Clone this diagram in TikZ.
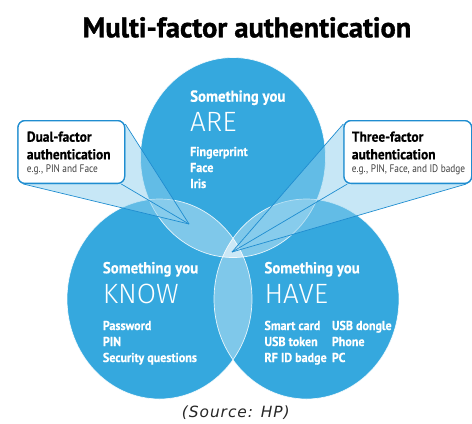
\documentclass[tikz,border=0pt]{standalone}
\usepackage{fontspec}
\usepackage{tikz}
\usetikzlibrary{positioning,calc}
\setmainfont{PT Sans}
\newfontfamily\hpsans[FakeStretch=0.93, BoldFeatures={FakeBold=0.5}]{PT Sans}
\newfontfamily\hpnote[FakeStretch=0.85]{PT Sans}
\newfontfamily\hptitle[FakeBold=1.2]{PT Sans Bold}
\newfontfamily\hplight{Fira Sans Light}
\newfontfamily\srcfont[LetterSpace=6]{DejaVu Sans}

\definecolor{hpblue}{HTML}{35A8DE}
\definecolor{hpline}{HTML}{1F8DD0}
\definecolor{hplight}{HTML}{8FD0EE}

\tikzset{
  venn/.style={fill=hpblue},
  lens/.style={fill=white, fill opacity=0.37},
  rim/.style={draw=white, line width=0.7bp, draw opacity=0.85},
  callout/.style={draw=hpline, line width=1.3bp, fill=white, rounded corners=7bp,
    inner sep=0pt, anchor=north west},
  wedge/.style={fill=hplight, fill opacity=0.5},
  ray/.style={draw=hpline, line width=0.7bp},
  head/.style={anchor=base west, inner sep=0pt, text=white,
    font=\hpsans\bfseries\fontsize{16}{18}\selectfont},
  big/.style={anchor=base west, inner sep=0pt, text=white,
    font=\hplight\fontsize{28}{30}\selectfont},
  item/.style={anchor=base west, inner sep=0pt, text=white,
    font=\hpsans\bfseries\fontsize{13}{15}\selectfont},
  boxhead/.style={anchor=base west, inner sep=0pt,
    font=\hpsans\bfseries\fontsize{14.5}{16}\selectfont},
  boxnote/.style={anchor=base west, inner sep=0pt, text=black!75,
    font=\hpnote\fontsize{11}{13}\selectfont},
}

\begin{document}
\begin{tikzpicture}[x=1bp,y=-1bp]
\useasboundingbox (0,0) rectangle (472,423);

% the three sets
\coordinate (are) at (233,157.5);
\coordinate (know) at (159.5,299);
\coordinate (have) at (306.5,299);
\fill[venn] (are) ellipse [x radius=92.5bp, y radius=100bp];
\fill[venn] (know) ellipse [x radius=92.5bp, y radius=100bp];
\fill[venn] (have) ellipse [x radius=92.5bp, y radius=100bp];

% overlaps
\begin{scope}
  \clip (are) ellipse [x radius=92.5bp, y radius=100bp];
  \fill[lens] (know) ellipse [x radius=92.5bp, y radius=100bp];
  \fill[lens] (have) ellipse [x radius=92.5bp, y radius=100bp];
\end{scope}
\begin{scope}
  \clip (know) ellipse [x radius=92.5bp, y radius=100bp];
  \fill[lens] (have) ellipse [x radius=92.5bp, y radius=100bp];
\end{scope}
\draw[rim] (are) ellipse [x radius=92.5bp, y radius=100bp];
\draw[rim] (know) ellipse [x radius=92.5bp, y radius=100bp];
\draw[rim] (have) ellipse [x radius=92.5bp, y radius=100bp];

% callouts
\node[callout, minimum width=106.7bp, minimum height=62.7bp] (dual) at (17.3,120) {};
\node[callout, minimum width=127.7bp, minimum height=62.7bp] (three) at (343.3,120) {};
\coordinate (dualtip) at (189,224);
\coordinate (threetip) at (232,252);

\fill[wedge] ([yshift=-4bp]dual.north east) -- (dualtip) -- ([xshift=6bp]dual.south west) -- cycle;
\fill[wedge] ([yshift=-4bp]three.north west) -- (threetip) -- ([xshift=-6bp]three.south east) -- cycle;
\draw[ray] ([yshift=-4bp]dual.north east) -- (dualtip);
\draw[ray] ([xshift=-4bp]dual.south east) -- (dualtip);
\draw[ray] ([xshift=6bp]dual.south west) -- (dualtip);
\draw[ray] ([yshift=-4bp]three.north west) -- (threetip);
\draw[ray] ([xshift=4bp]three.south west) -- (threetip);
\draw[ray] ([xshift=-6bp]three.south east) -- (threetip);

\node[callout, minimum width=106.7bp, minimum height=62.7bp] at (17.3,120) {};
\node[callout, minimum width=127.7bp, minimum height=62.7bp] at (343.3,120) {};

\node[boxhead] (dualA) at (26.7,141.7) {Dual-factor};
\node[boxhead] (dualB) at (26.7,159.3) {authentication};
\node[boxnote] (dualC) at (26.7,172.7) {e.g., PIN and Face};
\node[boxhead] (threeA) at (351.7,141.7) {Three-factor};
\node[boxhead] (threeB) at (351.7,159.3) {authentication};
\node[boxnote] (threeC) at (351.7,172.7) {e.g., PIN, Face, and ID badge};

% set labels
\node[head] (areA) at (190,101.7) {Something you};
\node[big] (areB) at (190,131.7) {ARE};
\node[item] (are1) at (190,156) {Fingerprint};
\node[item] (are2) at (190,172) {Face};
\node[item] (are3) at (190,188) {Iris};

\node[head] (knowA) at (102.7,273.3) {Something you};
\node[big] (knowB) at (102.7,303) {KNOW};
\node[item] (know1) at (102.7,330) {Password};
\node[item] (know2) at (102.7,346) {PIN};
\node[item] (know3) at (102.7,362) {Security questions};

\node[head] (haveA) at (264.3,273.3) {Something you};
\node[big] (haveB) at (264.3,303) {HAVE};
\node[item] (have1) at (264.3,330) {Smart card};
\node[item] (have2) at (264.3,346) {USB token};
\node[item] (have3) at (264.3,362) {RF ID badge};
\node[item] (have4) at (331.7,330) {USB dongle};
\node[item] (have5) at (331.7,346) {Phone};
\node[item] (have6) at (331.7,362) {PC};

% title and source
\node[anchor=base, inner sep=0pt, font=\hptitle\fontsize{28.5}{30}\selectfont] (title) at (247,37.3) {Multi-factor authentication};
\node[anchor=base, inner sep=0pt, font=\srcfont\itshape\fontsize{15.5}{17}\selectfont, text=black!85] (source) at (235.8,417.5) {(Source: HP)};
\end{tikzpicture}
\end{document}
